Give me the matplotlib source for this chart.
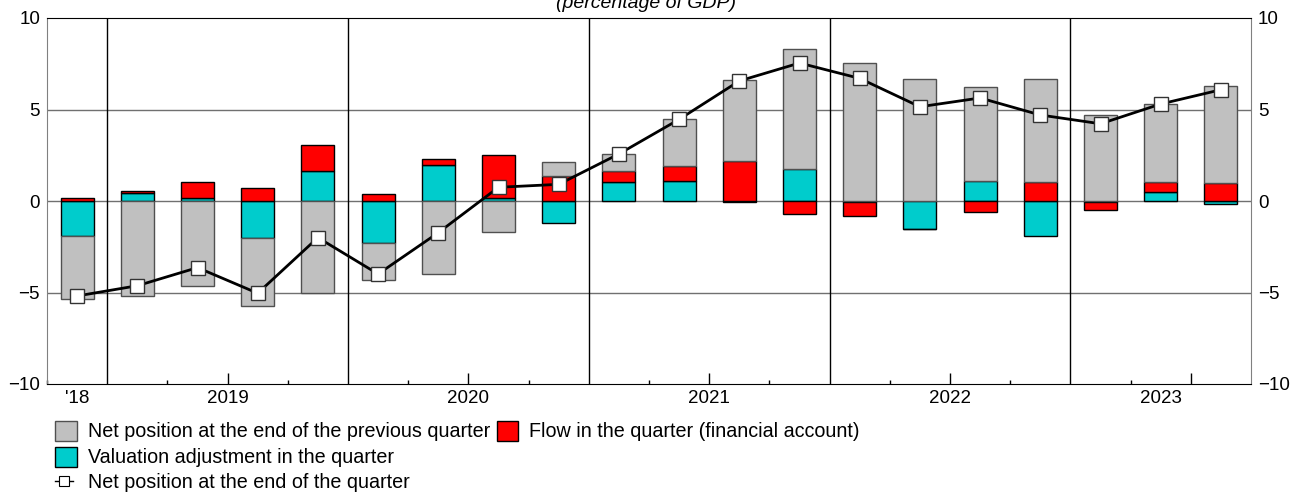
import numpy as np
import matplotlib
matplotlib.use('Agg')
import matplotlib.pyplot as plt
from matplotlib.patches import Patch
from matplotlib.lines import Line2D

plt.rcParams['font.family'] = 'Liberation Sans'
plt.rcParams['font.size'] = 13.5

# Quarters shown (2018Q4 .. 2023Q3)
quarters = ['2018Q4',
            '2019Q1', '2019Q2', '2019Q3', '2019Q4',
            '2020Q1', '2020Q2', '2020Q3', '2020Q4',
            '2021Q1', '2021Q2', '2021Q3', '2021Q4',
            '2022Q1', '2022Q2', '2022Q3', '2022Q4',
            '2023Q1', '2023Q2', '2023Q3']

# percentage of GDP
prev_position = [-3.44, -5.17, -4.64, -3.68, -5.04, -2.01, -3.99, -1.71, 0.73, 0.91,
                 2.55, 4.44, 6.56, 7.54, 6.68, 5.13, 5.63, 4.70, 4.25, 5.28]
valuation = [-1.92, 0.42, 0.18, -2.04, 1.66, -2.31, 1.95, 0.18, -1.20, 1.02,
             1.11, -0.05, 1.73, -0.08, -1.53, 1.08, -1.91, -0.03, 0.49, -0.16]
flow = [0.17, 0.10, 0.84, 0.69, 1.38, 0.37, 0.33, 2.32, 1.38, 0.64,
        0.80, 2.17, -0.71, -0.76, -0.02, -0.58, 1.02, -0.45, 0.56, 1.00]
end_position = [-5.19, -4.63, -3.64, -5.04, -2.00, -3.99, -1.73, 0.75, 0.91, 2.57,
                4.46, 6.56, 7.54, 6.70, 5.15, 5.63, 4.70, 4.22, 5.30, 6.08]

year_labels = ["'18", '2019', '2020', '2021', '2022', '2023']

C_GRAY = '#c0c0c0'
C_RED = '#ff0000'
C_CYAN = '#00cccc'

fig = plt.figure(figsize=(12.91, 4.93), dpi=100)
ax = fig.add_axes([47/1291, 1 - 384/493, (1251 - 47)/1291, (384 - 18)/493])

x = np.arange(len(quarters))
years = np.array([int(q[:4]) for q in quarters])
qnum = np.array([int(q[-1]) for q in quarters])

# stacked bars: valuation, flow, then previous position (positives up, negatives down)
pos_bottom = np.zeros(len(x))
neg_bottom = np.zeros(len(x))
series = [(valuation, C_CYAN, 'black'), (flow, C_RED, 'black'), (prev_position, C_GRAY, '#505050')]
for vals, col, ec in series:
    v = np.array(vals)
    bottom = np.where(v >= 0, pos_bottom, neg_bottom)
    ax.bar(x, v, width=0.55, bottom=bottom, color=col, edgecolor=ec, linewidth=1, zorder=2)
    pos_bottom = pos_bottom + np.where(v >= 0, v, 0)
    neg_bottom = neg_bottom + np.where(v < 0, v, 0)

ax.plot(x, end_position, color='black', lw=2, marker='s', markersize=10,
        markerfacecolor='white', markeredgecolor='#333333', markeredgewidth=1, zorder=3)

# grid
for yv in [-5, 0, 5]:
    ax.axhline(yv, color='#707070', lw=1, zorder=0)
for xb in x[qnum == 1]:
    ax.axvline(xb - 0.5, color='black', lw=1, zorder=0)

ax.set_xlim(-0.5, len(x) - 0.5)
ax.set_ylim(-10, 10)
ax.set_yticks([-10, -5, 0, 5, 10])
ax.tick_params(axis='y', length=0, pad=5, labelright=True)

# x ticks: medium at Q2/Q3 boundary, small at Q1/Q2 and Q3/Q4
ax.set_xticks(x[qnum == 3] - 0.5)
ax.set_xticks(x[(qnum == 2) | (qnum == 4)] - 0.5, minor=True)
ax.tick_params(axis='x', which='major', direction='in', length=8, width=1, labelbottom=False)
ax.tick_params(axis='x', which='minor', direction='in', length=3, width=1)

label_pos = [x[years == y].mean() for y in sorted(set(years))]
sec = ax.secondary_xaxis('bottom')
sec.set_xticks(label_pos, year_labels)
sec.tick_params(length=0, pad=4)
sec.spines['bottom'].set_visible(False)

for s in ['left', 'right']:
    ax.spines[s].set_color('#808080')
for s in ['top', 'bottom']:
    ax.spines[s].set_color('black')

fig.text(0.5, 1 - 8/493, '(percentage of GDP)', ha='center', va='baseline',
         style='italic', fontsize=14)

# legend rows
fs_leg = 14.2
leg_kw = dict(frameon=False, loc='center left', borderpad=0, borderaxespad=0, fontsize=fs_leg)
h1 = [Patch(facecolor=C_GRAY, edgecolor='#505050'), Patch(facecolor=C_RED, edgecolor='black')]
l1 = fig.legend(h1, ['Net position at the end of the previous quarter',
                     'Flow in the quarter (financial account)'],
                ncol=2, columnspacing=0.35, handlelength=1.1, handleheight=1.2, handletextpad=0.55,
                bbox_to_anchor=(55/1291, 1 - 431/493), **leg_kw)
h2 = [Patch(facecolor=C_CYAN, edgecolor='black')]
l2 = fig.legend(h2, ['Valuation adjustment in the quarter'], handlelength=1.1, handleheight=1.2,
                handletextpad=0.55, bbox_to_anchor=(55/1291, 1 - 457/493), **leg_kw)
h3 = [Line2D([], [], color='black', lw=1, marker='s', markersize=6.5,
             markerfacecolor='white', markeredgecolor='black', markeredgewidth=0.8)]
l3 = fig.legend(h3, ['Net position at the end of the quarter'], handlelength=0.9,
                handletextpad=0.75, bbox_to_anchor=(55/1291, 1 - 482/493), **leg_kw)

fig.savefig('out.png', dpi=100, facecolor='white')
